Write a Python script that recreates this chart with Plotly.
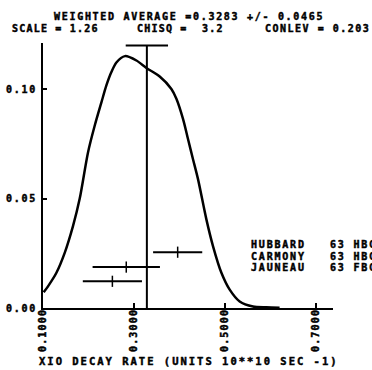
import plotly.graph_objects as go

# ---- data ----
curve_x = [0.1015, 0.111, 0.1295, 0.1477, 0.1659, 0.1807, 0.1989, 0.2136,
           0.2284, 0.2393, 0.2503, 0.2613, 0.2800, 0.3053, 0.3273, 0.3565,
           0.3822, 0.3932, 0.4077, 0.4187, 0.4297, 0.4407, 0.4591,
           0.4736, 0.4921, 0.5103, 0.5323, 0.5615, 0.591, 0.620]
curve_y = [0.0072, 0.0099, 0.0161, 0.0252, 0.0374, 0.0500, 0.0711, 0.0833,
           0.0940, 0.1017, 0.1078, 0.1122, 0.1151, 0.1131, 0.1097, 0.1058,
           0.1001, 0.0956, 0.0864, 0.0772, 0.0680, 0.0589, 0.0405,
           0.0283, 0.0161, 0.0084, 0.0030, 0.0007, 0.0003, 0.0001]

experiments = ["HUBBARD", "CARMONY", "JAUNEAU"]
references = ["63 HBC", "63 HBC", "63 FBC"]
meas_value = [0.396, 0.283, 0.2525]
meas_error = [0.054, 0.074, 0.065]
meas_height = [0.0255, 0.0187, 0.0122]

avg_value = 0.3283
avg_error = 0.0465
avg_top = 0.12

x_ticks = [0.1, 0.3, 0.5, 0.7]
x_tick_labels = ["0.1000", "0.3000", "0.5000", "0.7000"]
y_ticks = [0.0, 0.05, 0.10]
y_tick_labels = ["0.00", "0.05", "0.10"]

title1 = "WEIGHTED AVERAGE =0.3283 +/- 0.0465"
scale_txt = "SCALE = 1.26"
chisq_txt = "CHISQ =  3.2"
conlev_txt = "CONLEV = 0.203"
x_title = "XIO DECAY RATE (UNITS 10**10 SEC -1)"

FONT = "DejaVu Sans Mono"


def spaced(txt, px):
    return ('<span style="letter-spacing:%spx;stroke:black;stroke-width:0.45px">%s</span>'
            % (px, txt.replace(" ", "&#160;")))


fig = go.Figure()

# ideogram curve
fig.add_trace(go.Scatter(x=curve_x, y=curve_y, mode="lines",
                         line=dict(color="black", width=2.5, shape="spline", smoothing=0.8),
                         hoverinfo="skip"))

# weighted average line and its error bar
fig.add_trace(go.Scatter(x=[avg_value, avg_value], y=[0, avg_top], mode="lines",
                         line=dict(color="black", width=2)))
fig.add_trace(go.Scatter(x=[avg_value - avg_error, avg_value + avg_error], y=[avg_top, avg_top],
                         mode="lines", line=dict(color="black", width=2)))

# measurements
fig.add_trace(go.Scatter(x=meas_value, y=meas_height, mode="markers",
                         marker=dict(symbol="line-ns", size=8, color="black",
                                     line=dict(color="black", width=1.5)),
                         error_x=dict(type="data", array=meas_error, color="black",
                                      thickness=2, width=0)))

fig.update_layout(
    width=372, height=370,
    margin=dict(l=43, r=39, t=43, b=62),
    paper_bgcolor="white", plot_bgcolor="white",
    showlegend=False,
    font=dict(family=FONT, color="black", size=10, weight="bold"),
    xaxis=dict(range=[0.1, 0.7374], showgrid=False, zeroline=False, automargin=False,
               showline=True, linecolor="black", linewidth=1.5,
               ticks="inside", ticklen=5, tickwidth=1.5, tickcolor="black",
               tickvals=x_ticks, ticktext=[spaced(t, 1.2) for t in x_tick_labels],
               tickangle=-90, ticklabelstandoff=-5,
               tickfont=dict(family=FONT, size=10, weight="bold")),
    yaxis=dict(range=[0, 0.1211], showgrid=False, zeroline=False, automargin=False,
               showline=True, linecolor="black", linewidth=2,
               ticks="inside", ticklen=4, tickwidth=1.5, tickcolor="black",
               tickvals=y_ticks, ticktext=[spaced(t, 1.7) for t in y_tick_labels],
               ticklabelstandoff=2,
               tickfont=dict(family=FONT, size=10, weight="bold")),
)


def px_to_paper(px, py):
    return (px - 43) / 290.0, (308.3 - py) / 265.3


anns = []


def add_text(txt, px, py, xanchor="left", size=10, spacing=1.5):
    xp, yp = px_to_paper(px, py)
    anns.append(dict(text=spaced(txt, spacing), x=xp, y=yp, xref="paper", yref="paper",
                     xanchor=xanchor, yanchor="middle", showarrow=False,
                     font=dict(family=FONT, size=size, color="black", weight="bold")))


add_text(title1, 189, 16, "center", 10, 1.7)
add_text(scale_txt, 10, 28.5, "left", 10, 1.2)
add_text(chisq_txt, 135, 28.5, "left", 10, 1.2)
add_text(conlev_txt, 263, 28.5, "left", 10, 1.5)
add_text(x_title, 189, 361.5, "center", 10.5, 2.0)
rows_y = [245, 256.5, 268]
for name, ref, ry in zip(experiments, references, rows_y):
    add_text(name, 249, ry, "left", 10, 1.8)
    add_text(ref, 328, ry, "left", 10, 1.8)

fig.update_layout(annotations=anns)

fig.write_html("out.html")
